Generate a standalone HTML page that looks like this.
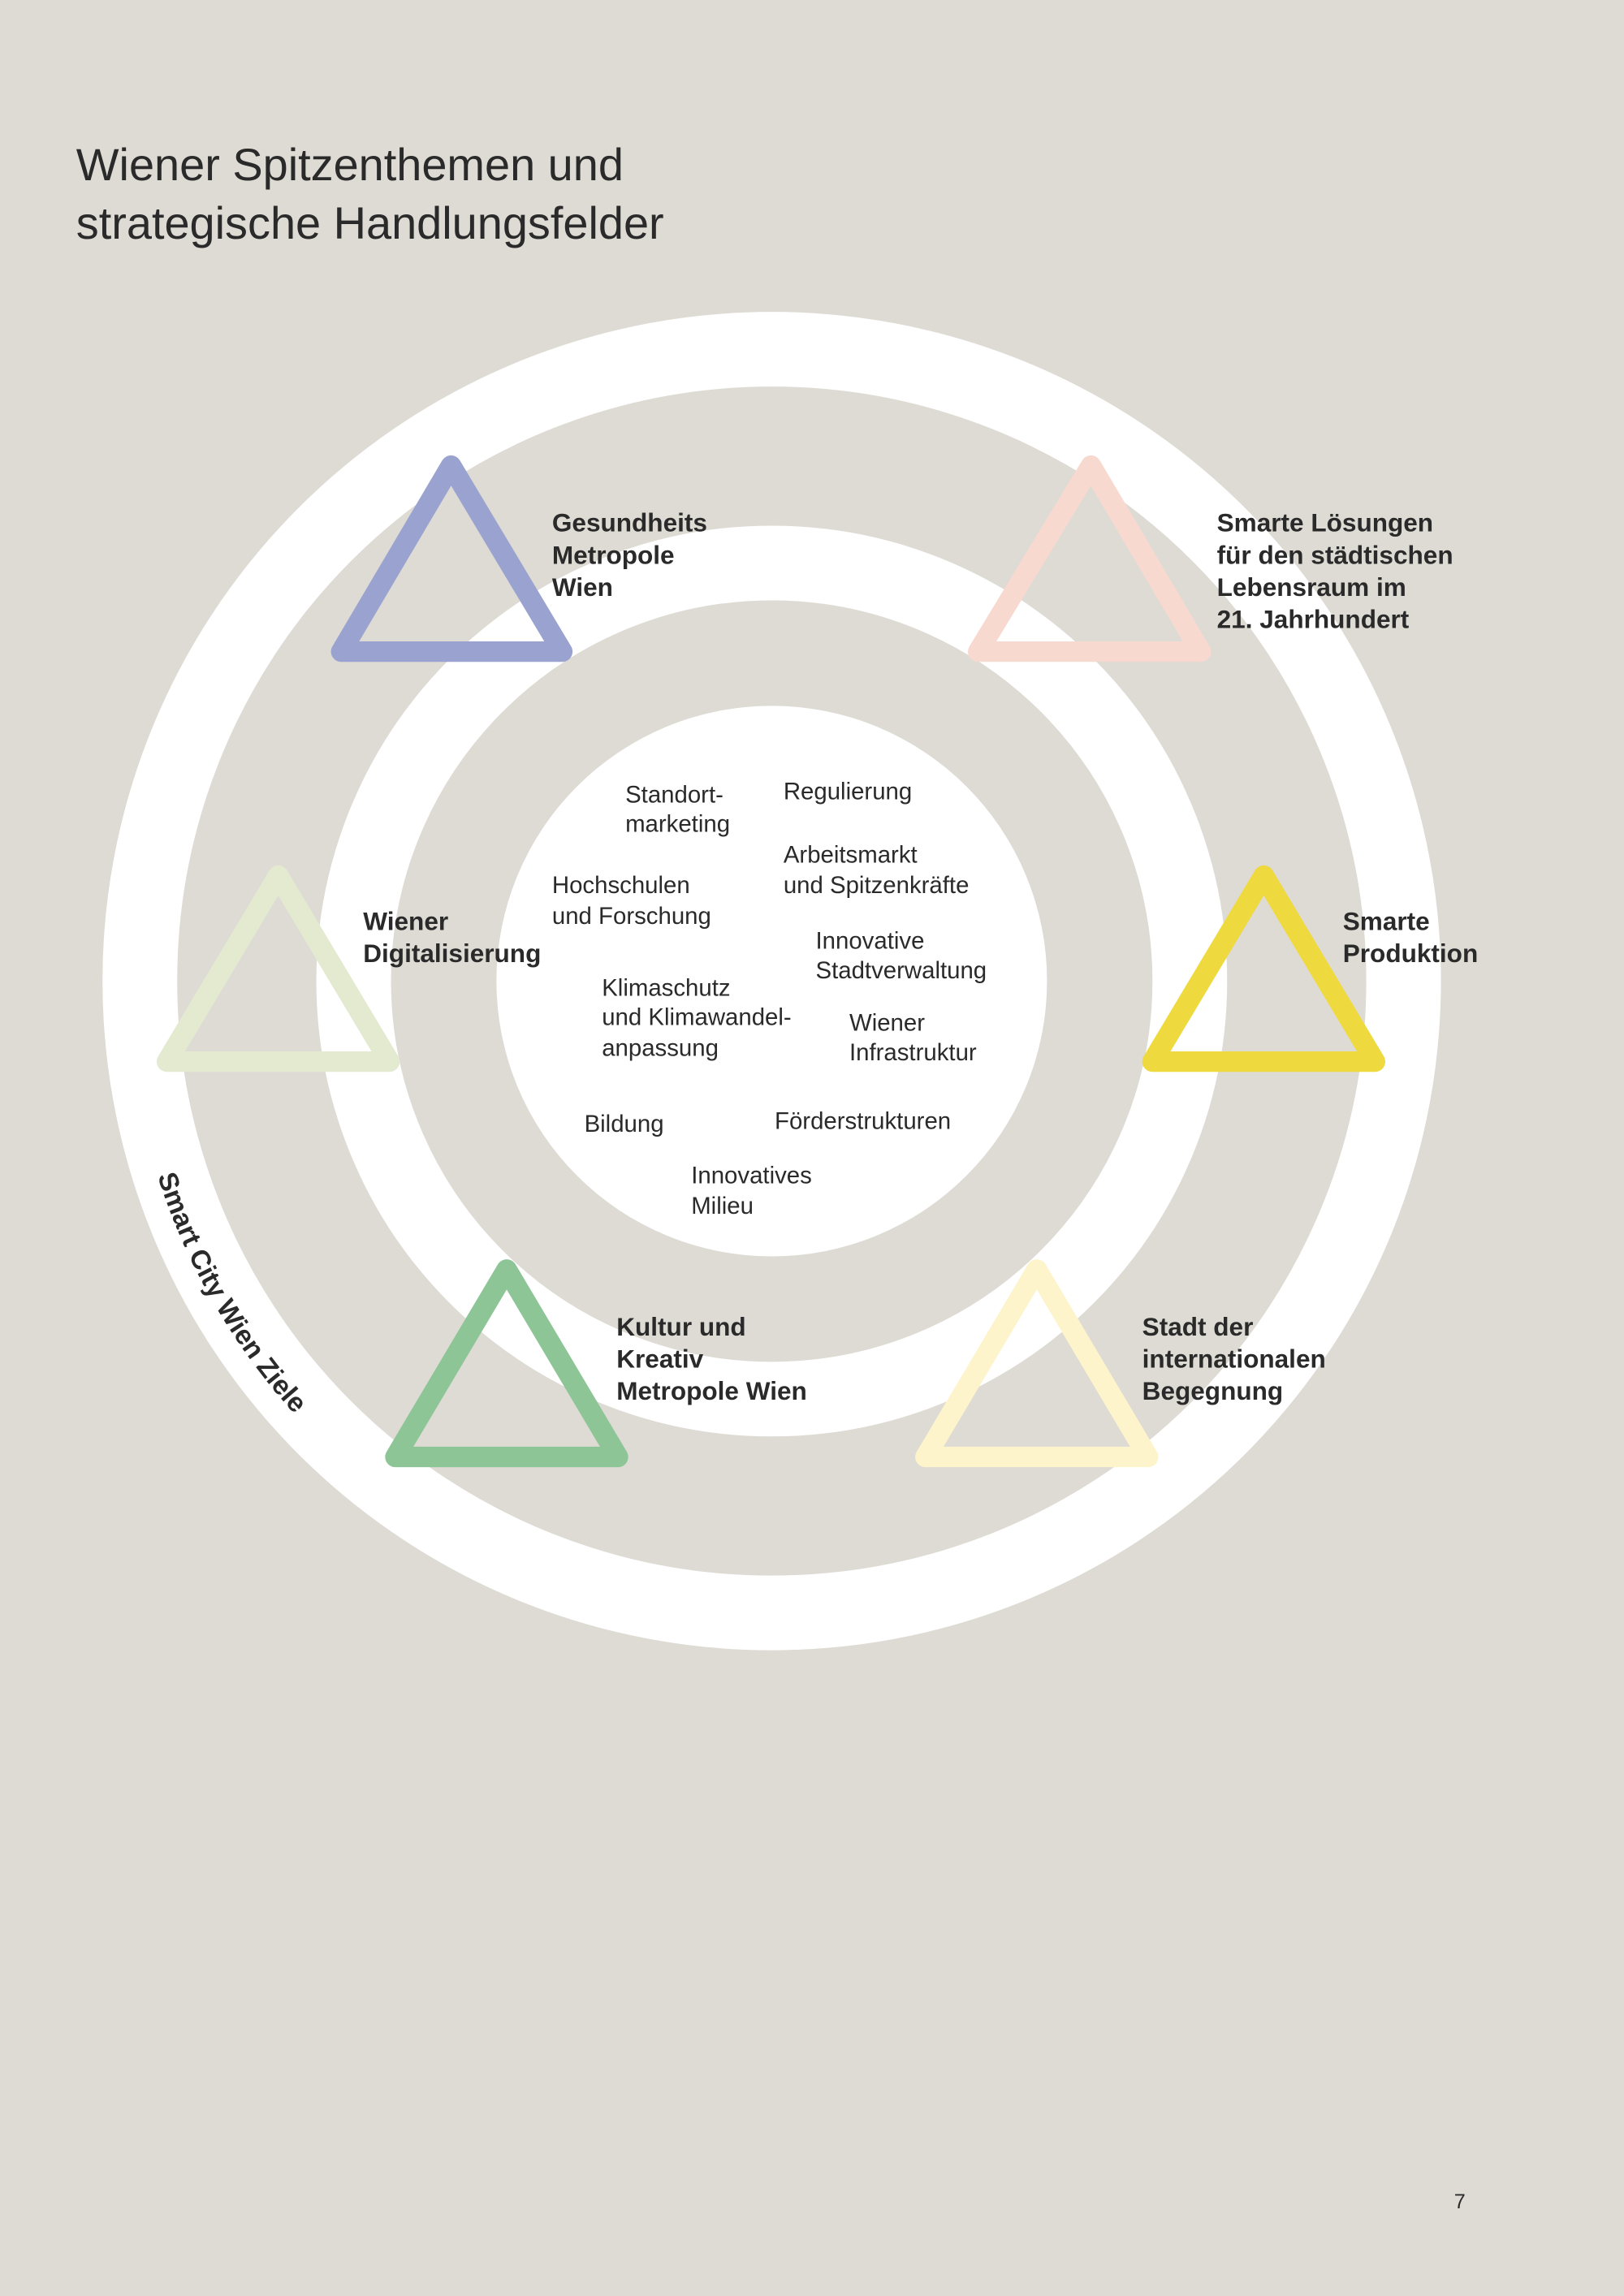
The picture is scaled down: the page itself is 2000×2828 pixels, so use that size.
<!DOCTYPE html>
<html><head><meta charset="utf-8"><style>
html,body{margin:0;padding:0;background:#dedbd4}
svg{display:block}
text{font-family:"Liberation Sans",sans-serif;fill:#2a2a2a}
.b{font-weight:bold;font-size:17.5px}
.n{font-size:16.3px}
</style></head><body>
<svg width="2000" height="2828" viewBox="0 0 1109 1568" preserveAspectRatio="none" xmlns="http://www.w3.org/2000/svg">
<rect width="1109" height="1568" fill="#dedbd4"/>
<text x="52" y="123" style="font-size:31px">Wiener Spitzenthemen und</text>
<text x="52" y="163" style="font-size:31px">strategische Handlungsfelder</text>

<circle cx="527" cy="670" r="431.5" fill="none" stroke="#fff" stroke-width="51"/>
<circle cx="527" cy="670" r="285.5" fill="none" stroke="#fff" stroke-width="51"/>
<circle cx="527" cy="670" r="188" fill="#fff"/>

<defs><path id="arc" d="M102,784 A440,440 0 0 0 274.6,1030.4"/></defs>
<text style="font-weight:bold;font-size:18.5px"><textPath href="#arc" startOffset="20">Smart City Wien Ziele</textPath></text>

<g fill="none" stroke-width="14" stroke-linejoin="round">
<polygon points="308,318 233,445 384,445" stroke="#9aa3d0"/>
<polygon points="745,318 668,445 820,445" stroke="#f8d9d0"/>
<polygon points="190,598 114,725 266,725" stroke="#e3ead0"/>
<polygon points="863,598 787,725 939,725" stroke="#eed93f"/>
<polygon points="346,867 270,995 422,995" stroke="#8dc597"/>
<polygon points="708,867 632,995 784,995" stroke="#fdf4cc"/>
</g>

<g class="b">
<text x="377" y="363">Gesundheits</text><text x="377" y="385">Metropole</text><text x="377" y="407">Wien</text>
<text x="831" y="363">Smarte Lösungen</text><text x="831" y="385">für den städtischen</text><text x="831" y="407">Lebensraum im</text><text x="831" y="429">21. Jahrhundert</text>
<text x="248" y="635">Wiener</text><text x="248" y="657">Digitalisierung</text>
<text x="917" y="635">Smarte</text><text x="917" y="657">Produktion</text>
<text x="421" y="912">Kultur und</text><text x="421" y="934">Kreativ</text><text x="421" y="956">Metropole Wien</text>
<text x="780" y="912">Stadt der</text><text x="780" y="934">internationalen</text><text x="780" y="956">Begegnung</text>
</g>

<g class="n">
<text x="427" y="548">Standort-</text><text x="427" y="568">marketing</text>
<text x="535" y="546">Regulierung</text>
<text x="535" y="589">Arbeitsmarkt</text><text x="535" y="610">und Spitzenkräfte</text>
<text x="377" y="610">Hochschulen</text><text x="377" y="631">und Forschung</text>
<text x="557" y="648">Innovative</text><text x="557" y="668">Stadtverwaltung</text>
<text x="411" y="680">Klimaschutz</text><text x="411" y="700">und Klimawandel-</text><text x="411" y="721">anpassung</text>
<text x="580" y="704">Wiener</text><text x="580" y="724">Infrastruktur</text>
<text x="399" y="773">Bildung</text>
<text x="529" y="771">Förderstrukturen</text>
<text x="472" y="808">Innovatives</text><text x="472" y="829">Milieu</text>
</g>

<text x="993" y="1508" style="font-size:14px">7</text>
</svg>
</body></html>
